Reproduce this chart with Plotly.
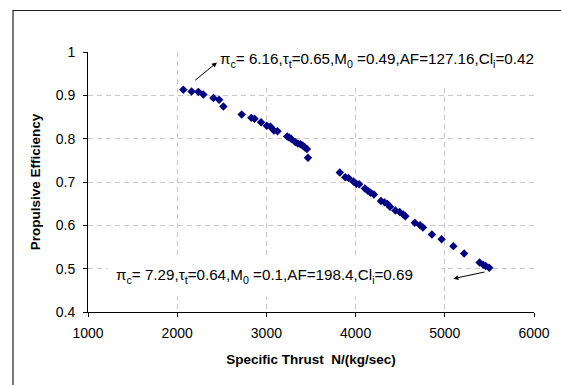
import plotly.graph_objects as go

# Data
thrust = [2068, 2161, 2237, 2293, 2406, 2470, 2518, 2723, 2831, 2867, 2940, 3004,
          3044, 3084, 3124, 3233, 3253, 3277, 3325, 3353, 3381, 3406, 3430, 3454, 3466,
          3823, 3884, 3920, 3976, 4008, 4040, 4104, 4137, 4169, 4205, 4285, 4325, 4357,
          4386, 4446, 4494, 4534, 4558, 4663, 4723, 4755, 4855, 4964, 5096, 5217, 5390,
          5430, 5458, 5498]
efficiency = [0.913, 0.909, 0.908, 0.902, 0.894, 0.890, 0.874, 0.856, 0.848, 0.846, 0.838, 0.830,
              0.828, 0.819, 0.817, 0.805, 0.803, 0.800, 0.792, 0.789, 0.787, 0.784, 0.780, 0.776, 0.756,
              0.722, 0.711, 0.709, 0.701, 0.696, 0.695, 0.685, 0.680, 0.675, 0.671, 0.656, 0.653, 0.649,
              0.643, 0.634, 0.631, 0.625, 0.621, 0.606, 0.600, 0.595, 0.579, 0.568, 0.552, 0.535, 0.514,
              0.509, 0.506, 0.502]

x_ticks = [1000, 2000, 3000, 4000, 5000, 6000]
y_ticks = [0.4, 0.5, 0.6, 0.7, 0.8, 0.9, 1.0]
y_tick_labels = ["0.4", "0.5", "0.6", "0.7", "0.8", "0.9", "1"]

label_top = "π<sub>c</sub>= 6.16,τ<sub>t</sub>=0.65,M<sub>0</sub> =0.49,AF=127.16,Cl<sub>i</sub>=0.42"
label_bottom = "π<sub>c</sub>= 7.29,τ<sub>t</sub>=0.64,M<sub>0</sub> =0.1,AF=198.4,Cl<sub>i</sub>=0.69"

FONT = "Liberation Sans, Arial, sans-serif"

fig = go.Figure()
fig.add_trace(go.Scatter(
    x=thrust, y=efficiency, mode="markers",
    marker=dict(symbol="diamond", size=6.5, color="#000080", line=dict(width=0)),
    showlegend=False,
))

grid = dict(showgrid=True, gridcolor="#c8c8c8", gridwidth=1, griddash="5px,4px")

fig.update_layout(
    width=561, height=385,
    margin=dict(l=88, r=27, t=52, b=73),
    paper_bgcolor="white", plot_bgcolor="white",
    font=dict(family=FONT, size=14, color="black"),
    xaxis=dict(range=[1000, 6000], tickvals=x_ticks, ticktext=[str(v) for v in x_ticks],
               showline=True, linecolor="black", linewidth=1,
               ticks="outside", ticklen=4, tickcolor="black", zeroline=False,
               ticklabelstandoff=4, tickfont=dict(size=14),
               title=dict(text="<b>Specific Thrust  N/(kg/sec)</b>", font=dict(size=13.5), standoff=14),
               **grid),
    yaxis=dict(range=[0.4, 1.0], tickvals=y_ticks, ticktext=y_tick_labels,
               showline=True, linecolor="black", linewidth=1,
               ticks="outside", ticklen=4, tickcolor="black", zeroline=False,
               ticklabelstandoff=5, tickfont=dict(size=14),
               title=dict(text="<b>Propulsive Efficiency</b>", font=dict(size=13.5), standoff=12),
               **grid),
)

# outer chart frame
fig.add_shape(type="rect", xref="paper", yref="paper",
              x0=(13 - 88) / 446, x1=(570 - 88) / 446,
              y0=(312 - 395) / 260, y1=(312 - 10.5) / 260,
              line=dict(color="#202020", width=1.2), fillcolor="rgba(0,0,0,0)", layer="above")

# text boxes
fig.add_annotation(x=2444, y=0.982, xref="x", yref="y", text=label_top, showarrow=False,
                   xanchor="left", yanchor="middle", align="left", width=319, height=46,
                   borderpad=2, bgcolor="white", font=dict(family=FONT, size=15.2, color="black"))
fig.add_annotation(x=1209, y=0.482, xref="x", yref="y", text=label_bottom, showarrow=False,
                   xanchor="left", yanchor="middle", align="left", width=317, height=24,
                   borderpad=8, bgcolor="white", font=dict(family=FONT, size=15.2, color="black"))

# arrows
fig.add_annotation(x=2446, y=0.976, ax=2185, ay=0.932, xref="x", yref="y", axref="x", ayref="y",
                   text="", showarrow=True, arrowhead=2, arrowsize=1, arrowwidth=1, arrowcolor="black")
fig.add_annotation(x=5096, y=0.477, ax=5462, ay=0.493, xref="x", yref="y", axref="x", ayref="y",
                   text="", showarrow=True, arrowhead=2, arrowsize=1, arrowwidth=1, arrowcolor="black")

fig.write_html("out.html", config={"displayModeBar": False},
               post_script="document.body.style.margin='0';document.body.style.overflow='hidden';")
